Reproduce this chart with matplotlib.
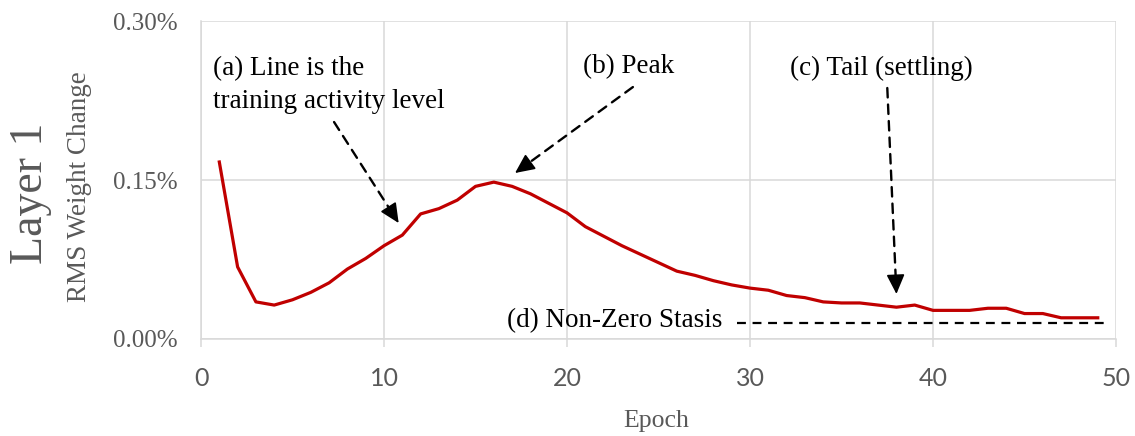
import matplotlib
matplotlib.use("Agg")
import matplotlib.pyplot as plt
from matplotlib.ticker import FuncFormatter

# data (RMS weight change, in percent)
epochs = list(range(1, 50))
rms_change = [0.167, 0.068, 0.035, 0.032, 0.037, 0.044, 0.053, 0.066, 0.076, 0.088,
              0.098, 0.118, 0.123, 0.131, 0.144, 0.148, 0.144, 0.137, 0.128, 0.119,
              0.106, 0.097, 0.088, 0.080, 0.072, 0.064, 0.060, 0.055, 0.051, 0.048,
              0.046, 0.041, 0.039, 0.035, 0.034, 0.034, 0.032, 0.030, 0.032, 0.027,
              0.027, 0.027, 0.029, 0.029, 0.024, 0.024, 0.020, 0.020, 0.020]
x_ticks = [0, 10, 20, 30, 40, 50]
y_ticks = [0.0, 0.15, 0.30]

GREY = "#595959"
GRID = "#d9d9d9"
SERIF = "Liberation Serif"

fig = plt.figure(figsize=(11.35, 4.36), dpi=100)
ax = fig.add_axes([0.1771, 0.2225, 0.8062, 0.7293])

ax.plot(epochs, rms_change, color="#c00000", linewidth=2.3, solid_joinstyle="round")

ax.set_xlim(0, 50)
ax.set_ylim(0, 0.30)
ax.set_xticks(x_ticks)
ax.set_yticks(y_ticks)
ax.yaxis.set_major_formatter(FuncFormatter(lambda v, p: f"{v:.2f}%"))
ax.grid(True, color=GRID, linewidth=1.1)
ax.set_axisbelow(True)
for s in ["top", "right"]:
    ax.spines[s].set_visible(False)
for s in ["left", "bottom"]:
    ax.spines[s].set_color(GRID)
    ax.spines[s].set_linewidth(1.1)

ax.tick_params(axis="y", length=0, pad=17, labelcolor=GREY)
ax.tick_params(axis="x", length=6, width=1.1, color=GRID, pad=14, labelcolor=GREY)
for lab in ax.get_yticklabels():
    lab.set_fontfamily(SERIF)
    lab.set_fontsize(18)
for lab in ax.get_xticklabels():
    lab.set_fontfamily("Lato")
    lab.set_fontsize(18)

# axis titles
fig.text(656 / 1135, 1 - 421 / 436, "Epoch", family=SERIF, fontsize=18.5,
         color=GREY, ha="center", va="center")
fig.text(79 / 1135, 1 - 187 / 436, "RMS Weight Change", family=SERIF, fontsize=19.5,
         color=GREY, ha="center", va="center", rotation=90)
fig.text(31 / 1135, 1 - 193 / 436, "Layer 1", family=SERIF, fontsize=33,
         color=GREY, ha="center", va="center", rotation=90)

# annotations
fs = 19.5
ax.text(0.66, 0.249, "(a) Line is the", family=SERIF, fontsize=fs, va="baseline")
ax.text(0.66, 0.218, "training activity level", family=SERIF, fontsize=fs, va="baseline")
ax.text(20.9, 0.251, "(b) Peak", family=SERIF, fontsize=fs, va="baseline")
ax.text(32.2, 0.249, "(c) Tail (settling)", family=SERIF, fontsize=fs, va="baseline")
ax.text(28.5, 0.0113, "(d) Non-Zero Stasis", family=SERIF, fontsize=fs,
        va="baseline", ha="right")

# dashed shafts with solid heads
arrows = [((7.27, 0.2047), (10.8, 0.1094)),
          ((23.6, 0.2377), (17.16, 0.1566)),
          ((37.5, 0.2368), (38.0, 0.0425))]
for start, end in arrows:
    ax.annotate("", xy=end, xytext=start,
                arrowprops=dict(arrowstyle="-", color="black", lw=1.7,
                                linestyle=(0, (4, 3)), shrinkA=0, shrinkB=6))
    near = (end[0] + (start[0] - end[0]) * 0.08, end[1] + (start[1] - end[1]) * 0.08)
    ax.annotate("", xy=end, xytext=near,
                arrowprops=dict(arrowstyle="-|>,head_length=0.6,head_width=0.28",
                                color="black", lw=1.2, mutation_scale=20,
                                shrinkA=0, shrinkB=0))

ax.plot([29.3, 49.4], [0.0148, 0.0148], color="black", lw=1.6,
        linestyle=(0, (4, 3)), clip_on=False)

fig.savefig("out.png", dpi=100)
